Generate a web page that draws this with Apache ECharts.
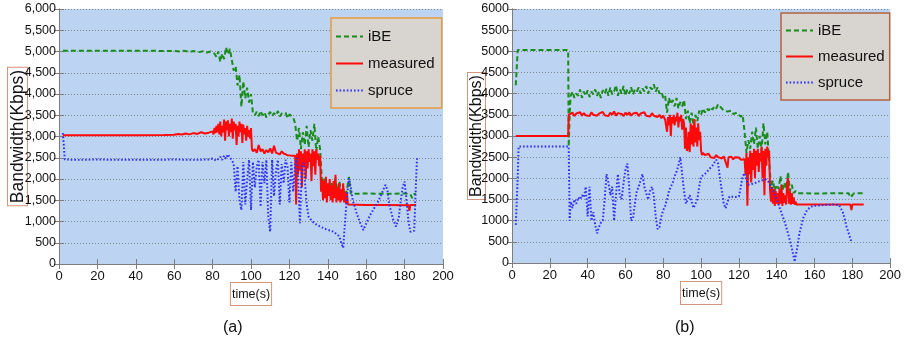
<!DOCTYPE html>
<html>
<head>
<meta charset="utf-8">
<script src="https://cdn.jsdelivr.net/npm/echarts@6.0.0/dist/echarts.min.js"></script>
<style>
  html, body { margin: 0; padding: 0; background: #fff; }
  #chart { width: 904px; height: 343px; }
</style>
</head>
<body>
<div id="chart"></div>
<script>
// values, [time (s), bandwidth (Kbps)]
const seriesNames = ["iBE", "measured", "spruce"];

const aIbe = [[2,5020],[10,5015],[20,5020],[30,5015],[40,5020],[50,5015],[60,5010],[63,5000],[65,5020],[68,4990],[70,5010],[73,4985],[75,5005],[77,4975],[79,5000],[80,4990],[81,4950],[82,4870],[83,5000],[84,4760],[85,4950],[86,4820],[87,5100],[88,4930],[89,5060],[90,4800],[91,4550],[92,4650],[93,4200],[94,4450],[95,3700],[96,4300],[97,3900],[98,4150],[99,3800],[100,4000],[101,3550],[102,3500],[103,3580],[104,3480],[105,3600],[106,3500],[107,3570],[108,3450],[109,3520],[110,3580],[111,3480],[112,3550],[113,3500],[114,3600],[115,3470],[116,3540],[117,3500],[118,3560],[119,3430],[120,3520],[121,3480],[122,3450],[123,3300],[124,2900],[125,3200],[126,2700],[127,3100],[128,2800],[129,3250],[130,2750],[131,3150],[132,2900],[133,3300],[134,2650],[135,3000],[136,2700],[137,1900],[138,2000],[139,1700],[140,1850],[141,1650],[142,1900],[143,1750],[144,2000],[145,1650],[146,1950],[147,1700],[148,1800],[149,1600],[150,1750],[151,2050],[152,1650],[160,1660],[170,1650],[180,1660],[183,1640],[184,1550],[185,1650],[186,1650]];

const aMeasured = [[2,3030],[20,3030],[40,3030],[55,3035],[60,3040],[62,3060],[64,3045],[66,3070],[68,3050],[70,3080],[72,3060],[74,3100],[76,3070],[78,3090],[79,3060],[80,3120],[80.5,3050],[81,3200],[81.5,3080],[82,3250],[82.5,3100],[83,3300],[83.5,3050],[84,3350],[84.5,3000],[85,3250],[85.5,3100],[86,3400],[86.5,2900],[87,3350],[87.5,3150],[88,3380],[88.5,3000],[89,3300],[89.5,3100],[90,3420],[90.5,2950],[91,3350],[91.5,3150],[92,3300],[92.5,2800],[93,3250],[93.5,3000],[94,3350],[94.5,3100],[95,3300],[95.5,2850],[96,3280],[96.5,3050],[97,3200],[97.5,2900],[98,3250],[98.5,3000],[99,3150],[99.5,2950],[100,3200],[100.5,2700],[101,2650],[102,2700],[103,2620],[104,2800],[105,2650],[106,2700],[107,2600],[108,2680],[109,2630],[110,2720],[111,2600],[112,2780],[113,2620],[114,2660],[115,2580],[116,2650],[117,2600],[118,2620],[119,2560],[120,2600],[121,2550],[122,2580],[123,2550],[123.5,1400],[124,2600],[124.5,2100],[125,2700],[125.5,2200],[126,2650],[126.5,1800],[127,2600],[127.5,2300],[128,2700],[128.5,2000],[129,2650],[129.5,2250],[130,2700],[130.5,2400],[131,2600],[131.5,1950],[132,2700],[132.5,2300],[133,2650],[133.5,2100],[134,2700],[134.5,2450],[135,2600],[135.5,2300],[136,2550],[136.5,1700],[137,2000],[137.5,1500],[138,1950],[138.5,1550],[139,2050],[139.5,1450],[140,1900],[140.5,1600],[141,2000],[141.5,1500],[142,1850],[142.5,1450],[143,1950],[143.5,1550],[144,2100],[144.5,1450],[145,1800],[145.5,1500],[146,1900],[146.5,1450],[147,1750],[147.5,1500],[148,1900],[148.5,1450],[149,1700],[149.5,1420],[150,1650],[150.5,1400],[151,1390],[160,1390],[170,1390],[180,1385],[182,1390],[182.5,1250],[183,1390],[186,1390]];

const aSpruce = [[2,3080],[2.5,2800],[3,2460],[10,2450],[20,2460],[30,2450],[40,2455],[50,2450],[60,2460],[70,2450],[78,2460],[80,2480],[82,2430],[84,2520],[85,2450],[86,2550],[87,2480],[88,2580],[89,2500],[90,2450],[91,2350],[92,1700],[93,2300],[94,1500],[95,1270],[96,2400],[97,1400],[98,2000],[99,2450],[100,1270],[101,2400],[102,1800],[103,2300],[104,2450],[105,1350],[106,2400],[107,1900],[108,2450],[109,1100],[110,760],[111,2450],[112,1600],[113,2200],[114,2450],[115,1400],[116,2350],[117,1900],[118,2450],[119,2300],[120,1450],[121,2400],[122,1700],[123,2350],[124,2500],[125,1500],[125.5,960],[126.5,2300],[127.5,2380],[128,2000],[129,1400],[130,1110],[132,1000],[134,930],[136,880],[139,820],[143,760],[146,650],[147,500],[148,380],[149,1000],[150,1600],[151,2020],[152,1800],[153,1500],[155,1200],[157,950],[158.5,800],[160,950],[162,1150],[164,1300],[166,1450],[168,1650],[170,1860],[171,1750],[172,1400],[174,1050],[175.5,880],[177,1100],[178,1500],[179,1800],[180,1940],[181,1500],[182,1000],[183,760],[184,800],[185,780],[185.5,1400],[186,2000],[186.5,2520]];

const bIbe = [[2,4200],[2.5,4600],[3,5030],[15,5030],[29.7,5030],[30,2750],[30.5,3500],[31,3950],[32,4050],[33,3900],[34,4000],[35,3950],[36,4100],[37,3900],[38,4050],[39,3950],[40,4080],[41,3920],[42,4050],[43,3980],[44,4100],[45,3950],[46,4050],[47,3900],[48,4080],[49,4000],[50,4120],[51,3950],[52,4150],[53,3980],[54,4050],[55,4200],[56,3950],[57,4100],[58,4000],[59,4180],[60,3950],[61,4100],[62,4000],[63,4150],[64,3980],[65,4100],[66,4050],[67,4150],[68,4000],[69,4120],[70,4050],[71,4180],[72,4000],[73,4150],[74,4100],[75,4220],[76,4050],[77,4150],[78,4000],[79,4050],[80,3900],[81,3950],[82,3550],[83,3900],[84,3750],[85,3850],[86,3700],[87,3900],[88,3650],[89,3800],[90,3700],[91,3850],[92,3400],[93,3600],[94,3300],[95,3550],[96,3250],[97,3500],[98,3350],[99,3600],[100,3500],[101,3650],[102,3550],[103,3650],[104,3600],[105,3680],[106,3620],[107,3700],[108,3650],[109,3750],[110,3700],[111,3650],[112,3600],[113,3620],[114,3580],[115,3550],[116,3600],[117,3520],[118,3480],[119,3550],[120,3500],[121,3450],[122,3500],[123,3100],[124,2600],[125,2900],[126,2700],[127,3100],[128,2800],[129,3200],[130,2700],[131,3000],[132,2650],[133,3300],[134,2800],[135,3100],[136,2400],[137,1800],[138,1950],[139,1700],[140,1850],[141,1750],[142,2050],[143,1700],[144,1900],[145,1750],[146,2150],[147,1700],[148,1850],[149,1650],[150,1700],[151,1650],[160,1640],[170,1650],[178,1650],[179,1550],[180,1600],[181,1650],[186,1650]];

const bMeasured = [[2,3000],[29.7,3000],[30,3500],[31,3480],[32,3550],[33,3470],[34,3530],[35,3500],[36,3560],[37,3480],[38,3540],[39,3490],[40,3520],[41,3470],[42,3560],[43,3500],[44,3540],[45,3480],[46,3530],[47,3500],[48,3570],[49,3490],[50,3530],[51,3470],[52,3550],[53,3500],[54,3580],[55,3480],[56,3540],[57,3500],[58,3520],[59,3470],[60,3550],[61,3500],[62,3560],[63,3480],[64,3530],[65,3490],[66,3550],[67,3470],[68,3530],[69,3500],[70,3560],[71,3480],[72,3520],[73,3460],[74,3540],[75,3480],[76,3520],[77,3450],[78,3500],[79,3420],[80,3480],[81,3380],[81.5,3350],[82,3100],[82.5,3450],[83,3250],[83.5,3500],[84,3000],[84.5,3450],[85,3300],[85.5,3500],[86,3250],[86.5,3450],[87,3350],[87.5,3550],[88,3200],[88.5,3450],[89,3350],[89.5,3500],[90,3150],[90.5,3400],[91,3300],[91.5,2700],[92,3200],[92.5,2650],[93,2700],[93.5,3100],[94,2620],[94.5,3300],[95,2800],[95.5,3250],[96,2750],[96.5,3400],[97,2850],[97.5,3200],[98,2750],[98.5,3300],[99,2900],[99.5,3100],[100,2650],[100.5,2550],[101,2600],[102,2550],[103,2520],[104,2580],[105,2500],[106,2540],[107,2480],[108,2550],[109,2500],[110,2530],[111,2470],[112,2520],[113,2480],[114,2250],[114.5,2500],[115,2470],[116,2510],[117,2450],[118,2500],[119,2460],[120,2490],[121,2440],[122,2480],[123,2450],[123.5,2100],[124,2600],[124.5,1350],[125,2500],[125.5,2100],[126,2650],[126.5,1900],[127,2600],[127.5,2200],[128,2700],[128.5,2000],[129,2650],[129.5,2300],[130,2700],[130.5,2150],[131,2600],[131.5,2400],[132,2750],[132.5,2000],[133,2650],[133.5,1600],[134,2700],[134.5,2300],[135,2750],[135.5,2500],[136,2650],[136.5,1700],[137,1450],[137.5,1800],[138,1400],[138.5,1750],[139,1350],[139.5,1700],[140,1400],[140.5,1650],[141,1380],[141.5,1750],[142,1400],[142.5,1850],[143,1350],[143.5,1650],[144,1420],[144.5,1600],[145,1380],[145.5,1900],[146,2000],[146.5,1400],[147,1700],[147.5,1380],[148,1650],[148.5,1400],[149,1550],[149.5,1380],[150,1450],[150.5,1380],[160,1380],[170,1380],[179,1380],[179.5,1250],[180,1380],[186,1380]];

const bSpruce = [[2,900],[3,2000],[3.5,2750],[10,2750],[20,2750],[30,2750],[30.5,1000],[31,1450],[32,1300],[33,1500],[34,1400],[35,1550],[36,1500],[37,1600],[38,1550],[39,1800],[40,1100],[41,1800],[42,1000],[43,1200],[44,900],[45,700],[46,850],[47,950],[48,1000],[49,1500],[50,2100],[51,1900],[52,1600],[53,1800],[54,1000],[55,1600],[56,2100],[57,1600],[58,1500],[59,1900],[60,2200],[61,2350],[62,1800],[63,1000],[64,1050],[65,1400],[66,1700],[67,1800],[68,1950],[69,2100],[70,1800],[71,1650],[72,1500],[73,1700],[74,1800],[75,1600],[76,1100],[77,800],[78,850],[79,1100],[80,1250],[81,1350],[82,1500],[83,1700],[84,1800],[85,1900],[86,2050],[87,2150],[88,2300],[89,2500],[90,2100],[91,1700],[92,1400],[93,1500],[94,1600],[95,1450],[96,1300],[97,1290],[98,1500],[99,1800],[100,2040],[102,2100],[104,2200],[106,2300],[108,2440],[109,2350],[110,2000],[111,1700],[112,1400],[113,1290],[114,1450],[115,1570],[116,1580],[118,1560],[120,1570],[121,1800],[122,2050],[123,2120],[124,1950],[125,1850],[126,1840],[128,1880],[130,1920],[132,1950],[134,1980],[135,2000],[136,1900],[137,1800],[138,1720],[140,1500],[142,1250],[144,1000],[146,700],[148,350],[149.5,30],[150,50],[151,400],[152,700],[154,1060],[156,1250],[158,1330],[160,1350],[165,1370],[170,1380],[173,1370],[175,1200],[177,850],[179.5,500]];

const panelTitles = ["(a)", "(b)"];
const yName = "Bandwidth(Kbps)";
const xName = "time(s)";

const font = "'Liberation Sans', Arial, sans-serif";

const frameColor = "#7d7d7d";
const styles = {
  iBE: { color: "#1b8c1b", type: [5, 3], width: 2 },
  measured: { color: "#ff0a0a", type: "solid", width: 2 },
  spruce: { color: "#2f2ff5", type: [1.6, 2], width: 2 },
};

const chart = echarts.init(document.getElementById("chart"), null, { renderer: "canvas" });

const bottomX = (gridIndex) => ({
  type: "value",
  gridIndex,
  min: 0,
  max: 200,
  interval: 20,
  name: xName,
  nameLocation: "middle",
  nameGap: 19,
  nameMoveOverlap: false,
  nameTextStyle: {
    fontFamily: font,
    fontSize: 12.5,
    color: "#111",
    backgroundColor: "#fff",
    borderColor: "#d4957a",
    borderWidth: 1,
    padding: [5, 1, 4, 1],
  },
  axisLine: { lineStyle: { color: frameColor, width: 1 } },
  axisTick: { inside: true, length: 5, lineStyle: { color: frameColor } },
  axisLabel: { fontFamily: font, fontSize: 13, color: "#111", margin: 6 },
  splitLine: { show: false },
});

const topX = (gridIndex) => ({
  type: "value",
  gridIndex,
  position: "top",
  min: 0,
  max: 200,
  interval: 20,
  axisLine: { lineStyle: { color: frameColor, width: 1 } },
  axisTick: { inside: true, length: 5, lineStyle: { color: frameColor } },
  axisLabel: { show: false },
  splitLine: { show: false },
});

const leftY = (gridIndex, withComma, nameSize, nameGap) => ({
  type: "value",
  gridIndex,
  min: 0,
  max: 6000,
  interval: 500,
  name: yName,
  nameLocation: "middle",
  nameRotate: 90,
  nameGap,
  nameMoveOverlap: false,
  nameTextStyle: {
    fontFamily: font,
    fontSize: nameSize,
    color: "#111",
    backgroundColor: "#fff",
    borderColor: "#d4957a",
    borderWidth: 1,
    padding: [1, 2, 0, 2],
  },
  axisLine: { show: true, lineStyle: { color: frameColor, width: 1 } },
  axisTick: { show: true, inside: true, length: 5, lineStyle: { color: frameColor } },
  axisLabel: {
    fontFamily: font,
    fontSize: 12.5,
    color: "#111",
    margin: 3,
    formatter: (v) => (withComma ? v.toLocaleString("en-US") : String(v)),
  },
  splitLine: { show: true, lineStyle: { color: "#7f8794", type: [1, 2], width: 1 } },
});

const rightY = (gridIndex) => ({
  type: "value",
  gridIndex,
  position: "right",
  min: 0,
  max: 6000,
  interval: 500,
  axisLine: { show: true, lineStyle: { color: frameColor, width: 1 } },
  axisTick: { show: true, inside: true, length: 5, lineStyle: { color: frameColor } },
  axisLabel: { show: false },
  splitLine: { show: false },
});

const lineSeries = (name, data, axisIndex) => ({
  name,
  type: "line",
  data,
  xAxisIndex: axisIndex,
  yAxisIndex: axisIndex,
  symbol: "none",
  showSymbol: false,
  lineStyle: { color: styles[name].color, type: styles[name].type, width: styles[name].width },
  itemStyle: { color: styles[name].color },
  z: 3,
});

const legendBox = (left, top, borderColor, padding, gap) => ({
  orient: "vertical",
  left,
  top,
  data: seriesNames,
  selectedMode: false,
  backgroundColor: "#d8d5d0",
  borderColor,
  borderWidth: 1.5,
  borderRadius: 0,
  padding,
  itemGap: gap,
  itemWidth: 27,
  itemHeight: 17,
  itemStyle: { opacity: 0 },
  textStyle: { fontFamily: font, fontSize: 15, color: "#111" },
});

chart.setOption({
  animation: false,
  backgroundColor: "#fff",
  grid: [
    { left: 59, top: 9, width: 384, height: 255, show: true, backgroundColor: "#bcd4f1", borderWidth: 0 },
    { left: 512, top: 9, width: 382, height: 254, show: true, backgroundColor: "#bcd4f1", borderWidth: 0 },
  ],
  title: [
    { text: panelTitles[0], left: 223, top: 320, textStyle: { fontFamily: font, fontSize: 16, fontWeight: "normal", color: "#111" }, padding: 0 },
    { text: panelTitles[1], left: 675, top: 320, textStyle: { fontFamily: font, fontSize: 16, fontWeight: "normal", color: "#111" }, padding: 0 },
  ],
  legend: [
    legendBox(331, 18, "#e59a3e", [11, 7, 10, 4], 12),
    legendBox(781, 13, "#b5623f", [10, 5, 10, 4], 11),
  ],
  xAxis: [bottomX(0), topX(0), bottomX(1), topX(1)],
  yAxis: [leftY(0, true, 17.5, 32), rightY(0), leftY(1, false, 16, 27), rightY(1)],
  series: [
    lineSeries("iBE", aIbe, 0),
    lineSeries("measured", aMeasured, 0),
    lineSeries("spruce", aSpruce, 0),
    lineSeries("iBE", bIbe, 2),
    lineSeries("measured", bMeasured, 2),
    lineSeries("spruce", bSpruce, 2),
  ],
});
</script>
</body>
</html>
